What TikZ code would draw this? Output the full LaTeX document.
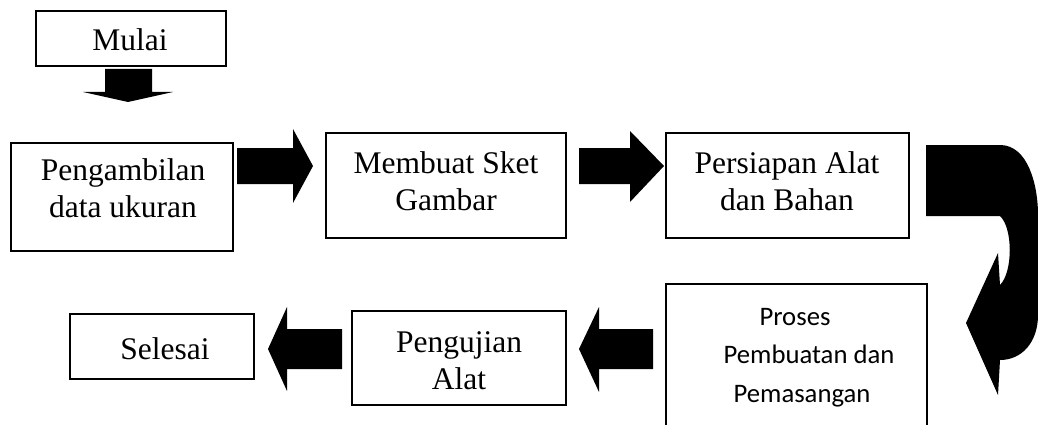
\documentclass[tikz,border=0pt]{standalone}
\usepackage{fontspec}
\setmainfont{Liberation Serif}
\newfontfamily\calfont{Carlito}
\newcommand\twoline[2]{\begin{tabular}[t]{@{}c@{}}#1\\#2\end{tabular}}
\newcommand\threeline[3]{\begin{tabular}[t]{@{}c@{}}#1\\#2\\#3\end{tabular}}
\tikzset{
  box/.style={draw=black, line width=1.3pt, minimum width=#1, inner sep=0pt},
  lbl/.style={anchor=base, inner sep=0pt, font=\fontsize{31.5}{37.8}\selectfont},
  clbl/.style={anchor=base, inner sep=0pt, font=\calfont\fontsize{26.7}{38.5}\selectfont},
  blk/.style={fill=black, draw=none}
}
\begin{document}
\begin{tikzpicture}[x=1pt,y=-1pt]
\useasboundingbox (0,0) rectangle (1038,425);
\fill[white] (0,0) rectangle (1038,425);
\clip (0,0) rectangle (1038,425);
% boxes
\node[box=190pt, minimum height=55pt] (mulai) at (131,38.5) {};
\node[box=222pt, minimum height=108pt] (ambil) at (122,197) {};
\node[box=240pt, minimum height=105pt] (sket) at (446,185.5) {};
\node[box=243pt, minimum height=105pt] (siap) at (787.5,185.5) {};
\node[box=261pt, minimum height=200pt] (proses) at (796.5,384) {};
\node[box=214pt, minimum height=94pt] (uji) at (459,358) {};
\node[box=184pt, minimum height=65pt] (selesai) at (162,346.5) {};
% texts
\node[lbl] (tmulai) at (130,51) {Mulai};
\node[lbl] (tambil) at (123,180) {\twoline{Pengambilan}{data ukuran}};
\node[lbl] (tsket) at (446,173) {\twoline{Membuat Sket}{Gambar}};
\node[lbl] (tsiap) at (787,173) {\twoline{Persiapan Alat}{dan Bahan}};
\node[clbl] (tproses) at (802,325) {\threeline{Proses\hspace*{14pt}}{\hspace*{14pt}Pembuatan dan}{Pemasangan}};
\node[lbl] (tuji) at (459,352) {\twoline{Pengujian}{Alat}};
\node[lbl] (tselesai) at (165,359) {Selesai};
% block arrows
\fill[blk] (105,69) -- (152,69) -- (152,92) -- (173,92) -- (128,102) -- (83,92) -- (105,92) -- cycle;
\fill[blk] (237,148) -- (293,148) -- (293,129) -- (313,166) -- (293,203) -- (293,184) -- (237,184) -- cycle;
\fill[blk] (579,148) -- (630,148) -- (630,131) -- (664,166) -- (630,202) -- (630,184) -- (579,184) -- cycle;
\fill[blk] (653,329) -- (599,329) -- (599,307) -- (579,349) -- (599,392) -- (599,369) -- (653,369) -- cycle;
\fill[blk] (342,329) -- (287,329) -- (287,307) -- (268,349) -- (287,391) -- (287,369) -- (342,369) -- cycle;
% curved arrow
\fill[blk] (926,145) -- (1000,145)
  .. controls (1028,145) and (1038,185) .. (1038,215)
  -- (1038,315)
  .. controls (1038,342) and (1022,360) .. (1000,360)
  -- (998,395) -- (966,323) -- (998,253) -- (1000,285)
  .. controls (1013,272) and (1013,228) .. (1000,216)
  -- (926,216) -- cycle;
\end{tikzpicture}
\end{document}
